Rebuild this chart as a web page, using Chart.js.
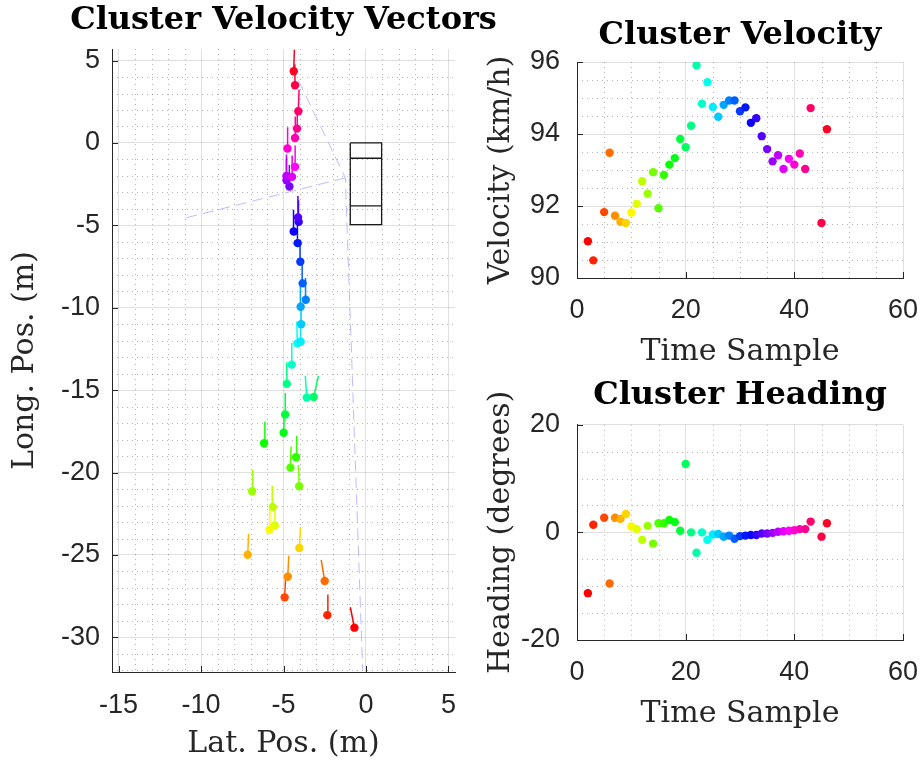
<!DOCTYPE html>
<html>
<head>
<meta charset="utf-8">
<title>Cluster Velocity</title>
<script src="https://cdn.jsdelivr.net/npm/chart.js@4.4.1/dist/chart.umd.min.js"></script>
<style>
  html, body { margin: 0; padding: 0; background: #fff; overflow: hidden; }
  body { width: 923px; height: 762px; position: relative; }
  canvas { position: absolute; }
</style>
</head>
<body>
<canvas id="vectorChart" width="567" height="762" style="left:0px;top:0px"></canvas>
<canvas id="velocityChart" width="540" height="370" style="left:470px;top:0px"></canvas>
<canvas id="headingChart" width="540" height="362" style="left:470px;top:370px"></canvas>
<script>
// cluster samples (time index, speed, heading, position)
const sampleTime = [2, 3, 5, 6, 7, 8, 9, 10, 11, 12, 13, 14, 15, 16, 17, 18, 19, 20, 21, 22,
  23, 24, 25, 26, 27, 28, 29, 30, 31, 32, 33, 34, 35, 36, 37, 38, 39, 40, 41, 42, 43, 45, 46];
const velocity = [91.02, 90.49, 91.83, 93.48, 91.73, 91.56, 91.53, 91.82, 92.06, 92.69,
  92.34, 92.94, 91.94, 92.86, 93.15, 93.33, 93.86, 93.63, 94.23, 95.91,
  94.84, 95.44, 94.75, 94.48, 94.81, 94.93, 94.93, 94.63, 94.74, 94.31,
  94.44, 93.94, 93.58, 93.24, 93.41, 93.03, 93.31, 93.15, 93.46, 93.03,
  94.72, 91.53, 94.13];
const heading = [-11.3, 1.4, 2.7, -9.5, 2.7, 2.5, 3.4, 1.1, 0.6, -1.4,
  1.2, -2.1, 1.7, 1.7, 2.3, 1.9, 0.3, 12.7, 0.0, -3.8,
  0.0, -1.4, -0.4, -0.3, -0.8, -0.6, -1.2, -0.7, -0.6, -0.5,
  -0.5, -0.2, -0.2, -0.1, 0.1, 0.2, 0.3, 0.4, 0.6, 0.6,
  2.0, -0.8, 1.7];
const latPos = [-0.70, -2.34, -4.93, -2.50, -4.74, -7.17, -4.04, -5.85, -5.53, -5.65,
  -6.90, -4.05, -4.58, -4.24, -6.18, -4.99, -4.90, -3.17, -4.80, -3.59,
  -4.50, -4.16, -3.96, -3.93, -3.96, -3.65, -3.84, -3.98, -4.14, -4.38,
  -4.08, -4.12, -4.64, -4.82, -4.82, -4.48, -4.30, -4.76, -4.30, -4.18,
  -4.10, -4.30, -4.38];
const longPos = [-29.41, -28.65, -27.57, -26.58, -26.32, -24.99, -24.58, -23.47, -23.23, -22.08,
  -21.13, -20.83, -19.70, -19.07, -18.22, -17.58, -16.48, -15.41, -14.62, -15.45,
  -13.45, -12.16, -12.06, -11.00, -9.94, -9.51, -8.52, -7.21, -6.08, -5.37,
  -4.79, -4.52, -2.64, -2.26, -2.00, -2.06, -1.45, -0.34, 0.30, 0.87,
  1.92, 3.50, 4.35];

// sensor coverage edges and ego vehicle outline (null = break)
const fovLat = [-4.10, -1.25, -0.20, null, -1.25, -10.95];
const fovLong = [3.80, -2.12, -32.0, null, -2.12, -4.55];
const egoLat = [-0.95, 0.95, 0.95, -0.95, -0.95, null, -0.95, 0.95, null, -0.95, 0.95];
const egoLong = [0, 0, -4.95, -4.95, 0, null, -0.93, -0.93, null, -3.82, -3.82];

// tick labels
const latTicks = [-15, -10, -5, 0, 5];
const longTicks = [-30, -25, -20, -15, -10, -5, 0, 5];
const timeTicks = [0, 20, 40, 60];
const velocityTicks = [90, 92, 94, 96];
const headingTicks = [-20, 0, 20];

const axisColor = '#262626';
const tickFont = { family: 'Liberation Sans', size: 27 };
const labelFont = { family: 'DejaVu Serif', size: 30 };
const titleFont = { family: 'DejaVu Serif', size: 32, weight: 'bold' };

// matlab style hsv colormap
function hsvColor(h) {
  const i = Math.floor(h * 6), f = h * 6 - i;
  const rgb = [[1, f, 0], [1 - f, 1, 0], [0, 1, f], [0, 1 - f, 1], [f, 0, 1], [1, 0, 1 - f]][i % 6];
  return 'rgb(' + rgb.map(c => Math.round(c * 255)).join(',') + ')';
}
const pointColors = sampleTime.map((t, i) => hsvColor(i / sampleTime.length));

// vector = speed (m/s) times 0.05 s, pointing along the heading
const vectorData = [];
latPos.forEach((x, i) => {
  const len = velocity[i] / 3.6 * 0.05;
  const a = heading[i] * Math.PI / 180;
  vectorData.push({ x: x, y: longPos[i] });
  vectorData.push({ x: x + len * Math.sin(a), y: longPos[i] + len * Math.cos(a) });
  vectorData.push({ x: null, y: null });
});

const toXY = (xs, ys) => xs.map((x, i) => (x === null ? { x: null, y: null } : { x: x, y: ys[i] }));

// dotted minor grid and inward tick marks
const matlabGrid = {
  id: 'matlabGrid',
  beforeDatasetsDraw(chart, args, opts) {
    const { ctx, chartArea: a } = chart;
    const xs = chart.scales.x, ys = chart.scales.y;
    ctx.save();
    ctx.beginPath();
    ctx.strokeStyle = 'rgba(38,38,38,0.34)';
    ctx.lineWidth = 1;
    ctx.setLineDash([1, 4]);
    for (let k = Math.ceil(xs.min / opts.xStep); k * opts.xStep <= xs.max; k++) {
      const v = k * opts.xStep;
      if (opts.xMajor.includes(v)) continue;
      const px = Math.round(xs.getPixelForValue(v)) + 0.5;
      ctx.moveTo(px, a.top);
      ctx.lineTo(px, a.bottom);
    }
    for (let k = Math.ceil(ys.min / opts.yStep); k * opts.yStep <= ys.max; k++) {
      const v = k * opts.yStep;
      if (opts.yMajor.includes(v)) continue;
      const py = Math.round(ys.getPixelForValue(v)) + 0.5;
      ctx.moveTo(a.left, py);
      ctx.lineTo(a.right, py);
    }
    ctx.stroke();
    ctx.restore();
  },
  afterDraw(chart, args, opts) {
    const { ctx, chartArea: a } = chart;
    const xs = chart.scales.x, ys = chart.scales.y;
    ctx.save();
    ctx.beginPath();
    ctx.strokeStyle = axisColor;
    ctx.lineWidth = 1;
    opts.xMajor.forEach(v => {
      const px = Math.round(xs.getPixelForValue(v)) + 0.5;
      ctx.moveTo(px, a.bottom);
      ctx.lineTo(px, a.bottom - 6);
    });
    opts.yMajor.forEach(v => {
      const py = Math.round(ys.getPixelForValue(v)) + 0.5;
      ctx.moveTo(a.left, py);
      ctx.lineTo(a.left + 6, py);
    });
    ctx.stroke();
    ctx.restore();
  }
};

function axis(min, max, ticks, size, tickPad, title, titlePad) {
  return {
    type: 'linear',
    min: min,
    max: max,
    afterBuildTicks: s => { s.ticks = ticks.map(v => ({ value: v })); },
    afterFit: s => {
      if (s.isHorizontal()) s.height = size; else s.width = size;
      s.paddingLeft = 0; s.paddingRight = 0; s.paddingTop = 0; s.paddingBottom = 0;
    },
    grid: { color: 'rgba(38,38,38,0.15)', drawTicks: false },
    border: { display: true, color: axisColor, width: 1 },
    ticks: { font: tickFont, color: axisColor, padding: tickPad, callback: v => String(v) },
    title: { display: true, text: title, font: labelFont, color: axisColor, padding: titlePad }
  };
}

// empty right axis, only there so the title centres over the plot box
function spacer(size) {
  return {
    position: 'right',
    display: true,
    afterFit: s => { s.width = size; s.paddingTop = 0; s.paddingBottom = 0; },
    grid: { display: false, drawTicks: false },
    border: { display: false },
    ticks: { display: false }
  };
}

function baseOptions(title, titlePad) {
  return {
    responsive: false,
    animation: false,
    devicePixelRatio: 1,
    events: [],
    layout: { padding: 0 },
    plugins: {
      legend: { display: false },
      tooltip: { enabled: false },
      title: { display: true, text: title, font: titleFont, color: '#000', padding: titlePad }
    }
  };
}

// Cluster Velocity Vectors
const vecOpts = baseOptions('Cluster Velocity Vectors', { top: 1.8, bottom: 8.8 });
vecOpts.scales = {
  x: axis(-15.4, 5.4, latTicks, 90, 17, 'Lat. Pos. (m)', { top: 0, bottom: 0 }),
  y: axis(-32.1, 5.7, longTicks, 112, 12, 'Long. Pos. (m)', { top: 7, bottom: 0 }),
  yr: spacer(112)
};
vecOpts.plugins.matlabGrid = { xStep: 1, yStep: 1, xMajor: latTicks, yMajor: longTicks };

new Chart(document.getElementById('vectorChart'), {
  type: 'scatter',
  data: {
    datasets: [{
      data: toXY(latPos, longPos),
      pointRadius: 4.2,
      pointBorderWidth: 0,
      pointBackgroundColor: pointColors
    }, {
      data: vectorData,
      showLine: true,
      spanGaps: false,
      pointRadius: 0,
      borderWidth: 1.5,
      segment: { borderColor: ctx => pointColors[Math.floor(ctx.p0DataIndex / 3)] }
    }, {
      data: toXY(fovLat, fovLong),
      showLine: true,
      spanGaps: false,
      pointRadius: 0,
      borderWidth: 1,
      borderColor: '#bcbcff',
      borderDash: [11, 6]
    }, {
      data: toXY(egoLat, egoLong),
      showLine: true,
      spanGaps: false,
      pointRadius: 0,
      borderWidth: 1.3,
      borderColor: '#1a1a1a'
    }]
  },
  options: vecOpts,
  plugins: [matlabGrid]
});

// Cluster Velocity
const velOpts = baseOptions('Cluster Velocity', { top: 16.8, bottom: 6.8 });
velOpts.scales = {
  x: axis(0, 60, timeTicks, 92, 16, 'Time Sample', { top: 0, bottom: 0 }),
  y: axis(90, 96, velocityTicks, 107, 17, 'Velocity (km/h)', { top: 13.5, bottom: 0 }),
  yr: spacer(107)
};
velOpts.plugins.matlabGrid = { xStep: 5, yStep: 0.5, xMajor: timeTicks, yMajor: velocityTicks };

new Chart(document.getElementById('velocityChart'), {
  type: 'scatter',
  data: {
    datasets: [{
      data: toXY(sampleTime, velocity),
      pointRadius: 4.2,
      pointBorderWidth: 0,
      pointBackgroundColor: pointColors
    }]
  },
  options: velOpts,
  plugins: [matlabGrid]
});

// Cluster Heading
const headOpts = baseOptions('Cluster Heading', { top: 6.3, bottom: 10 });
headOpts.scales = {
  x: axis(0, 60, timeTicks, 92, 16, 'Time Sample', { top: 0, bottom: 0 }),
  y: axis(-20, 20, headingTicks, 107, 17, 'Heading (degrees)', { top: 13.5, bottom: 0 }),
  yr: spacer(107)
};
headOpts.plugins.matlabGrid = { xStep: 5, yStep: 5, xMajor: timeTicks, yMajor: headingTicks };

new Chart(document.getElementById('headingChart'), {
  type: 'scatter',
  data: {
    datasets: [{
      data: toXY(sampleTime, heading),
      pointRadius: 4.2,
      pointBorderWidth: 0,
      pointBackgroundColor: pointColors
    }]
  },
  options: headOpts,
  plugins: [matlabGrid]
});
</script>
</body>
</html>
